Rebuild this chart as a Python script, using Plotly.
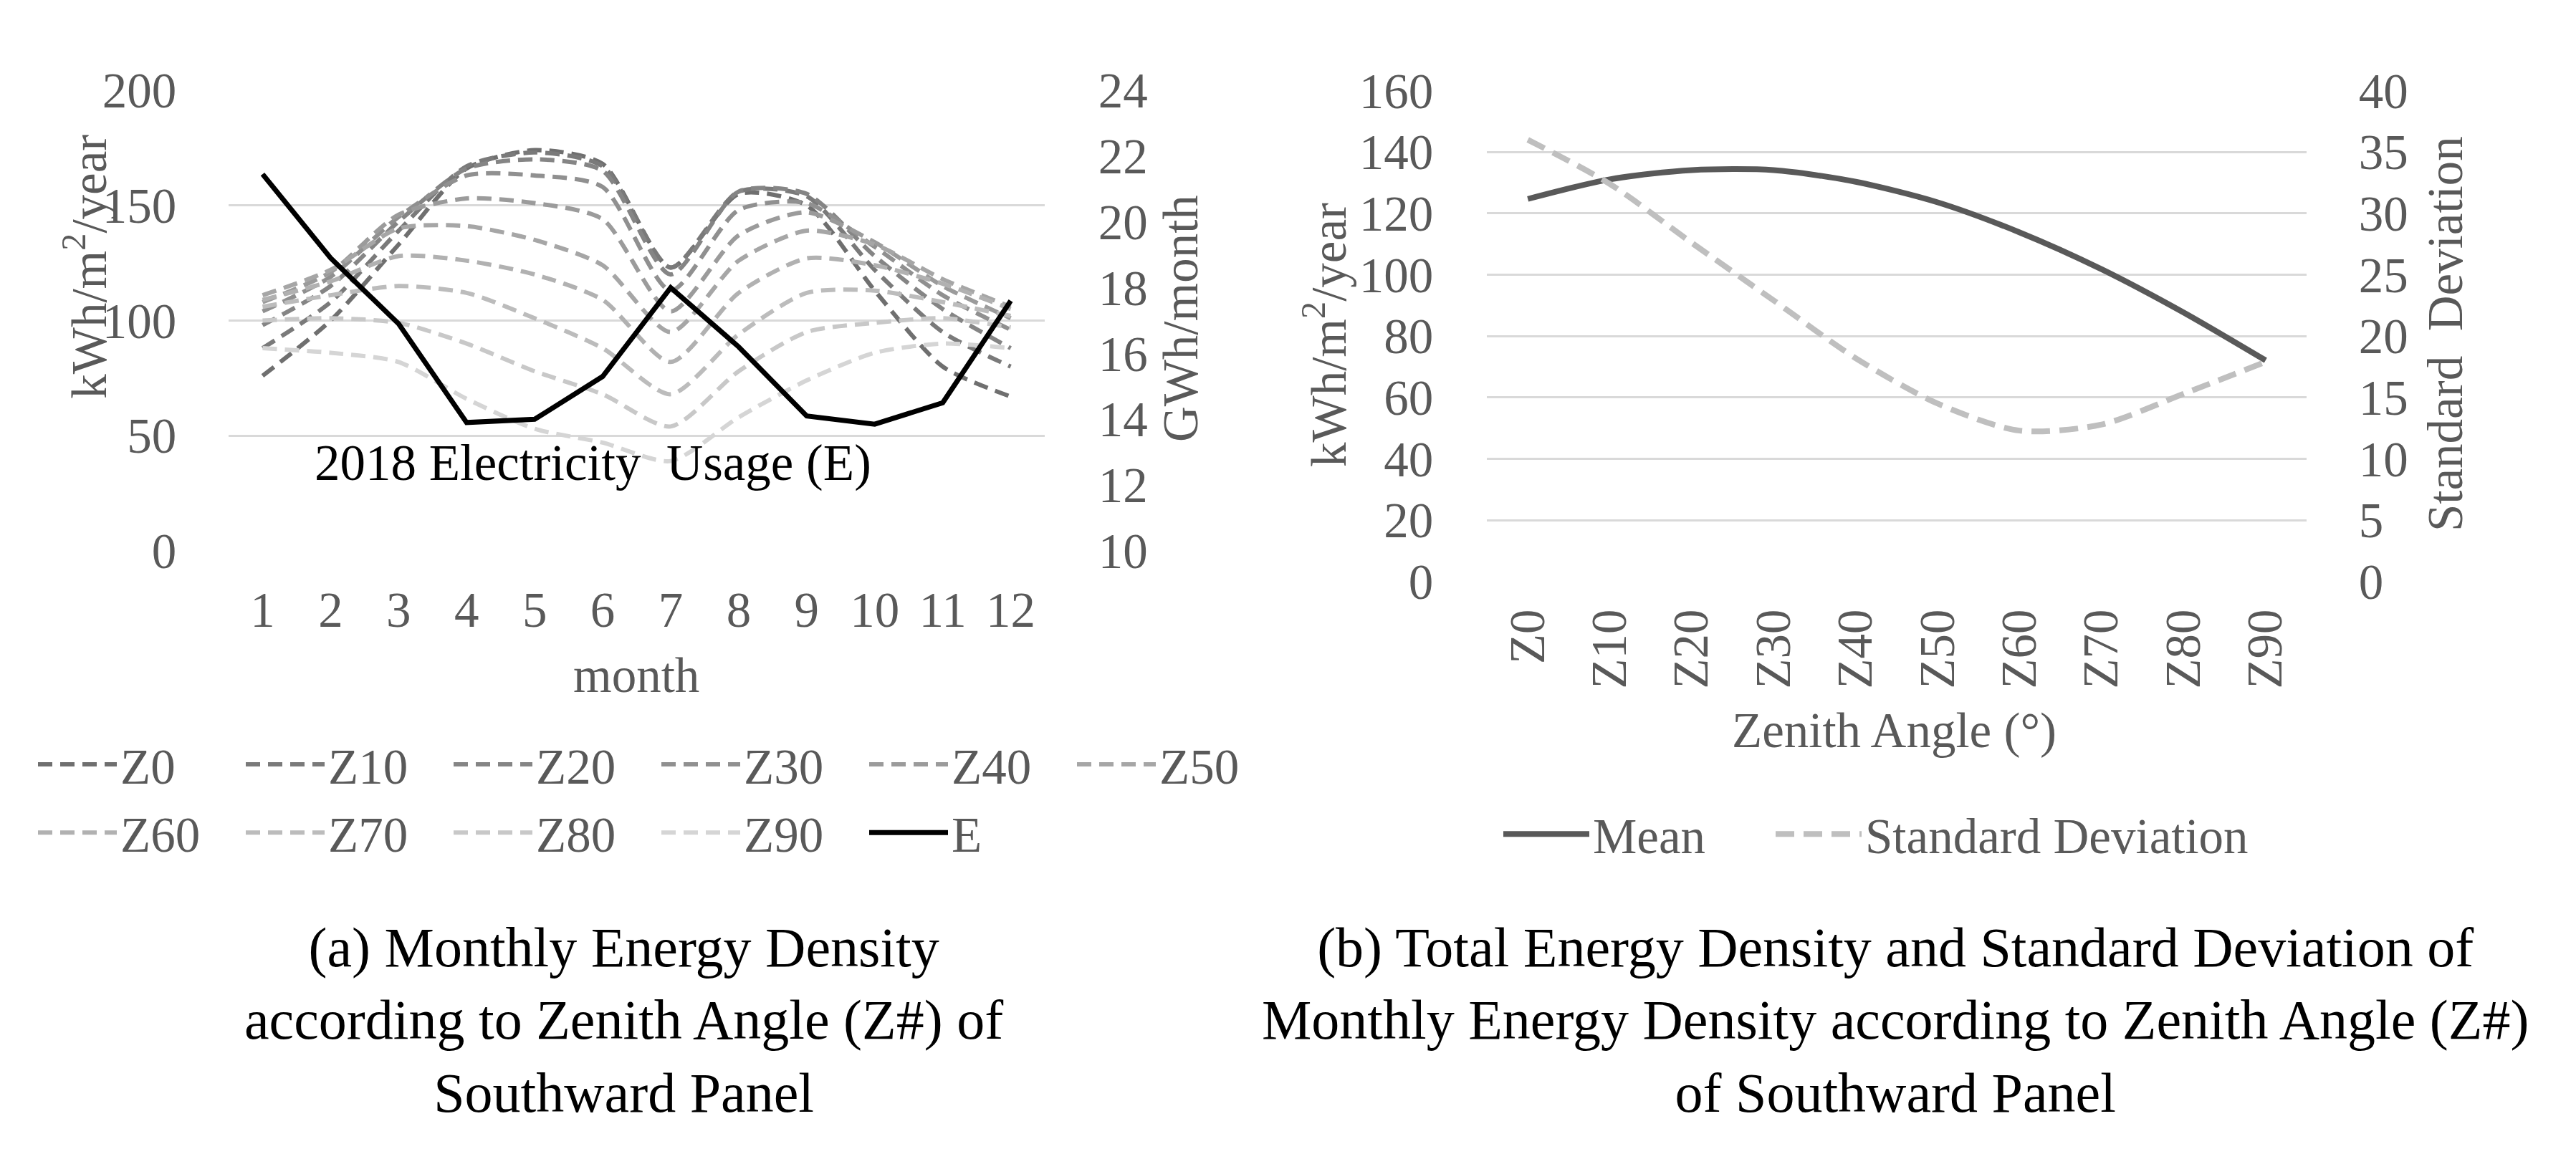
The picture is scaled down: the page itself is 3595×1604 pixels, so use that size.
import plotly.graph_objects as go

W, H = 3595, 1604

months = list(range(1, 13))
month_labels = [str(m) for m in months]
zenith_names = ["Z0", "Z10", "Z20", "Z30", "Z40", "Z50", "Z60", "Z70", "Z80", "Z90"]

# Monthly energy density (kWh/m2/year) per zenith angle
Z0 = [76, 100, 133, 166, 174, 168, 123, 155, 150, 113, 80, 67]
Z10 = [88, 108, 139, 167, 173, 167, 123, 156, 154, 122, 95, 80]
Z20 = [98, 115, 143, 166, 170, 165, 120, 156, 155, 128, 105, 88]
Z30 = [104, 119, 145, 163, 163, 158, 113, 148, 151, 132, 111, 96]
Z40 = [108, 121, 146, 153, 151, 144, 104, 137, 147, 134, 115, 101]
Z50 = [111, 122, 140, 141, 135, 124, 95, 126, 139, 133, 118, 106]
Z60 = [109, 117, 128, 126, 120, 109, 82, 112, 127, 124, 116, 105]
Z70 = [106, 111, 115, 112, 101, 88, 68, 94, 112, 113, 108, 102]
Z80 = [100, 101, 99, 90, 78, 68, 54, 78, 95, 99, 101, 97]
Z90 = [88, 86, 82, 66, 53, 47, 39, 58, 74, 86, 90, 88]
# 2018 electricity usage (GWh/month)
E = [21.45, 18.9, 16.9, 13.9, 14.0, 15.3, 18.0, 16.2, 14.1, 13.85, 14.5, 17.6]

# Right panel: mean and standard deviation per zenith angle
mean_vals = [124.7, 131.1, 134.1, 134.1, 130.3, 123.6, 113.8, 101.8, 87.7, 72.1]
std_vals = [36.0, 32.4, 27.6, 22.9, 18.2, 14.5, 12.3, 12.8, 15.3, 17.9]

z_series = [Z0, Z10, Z20, Z30, Z40, Z50, Z60, Z70, Z80, Z90]
z_colors = ["#6f6f6f", "#7a7a7a", "#858585", "#909090", "#9b9b9b",
            "#a6a6a6", "#b1b1b1", "#bcbcbc", "#c8c8c8", "#d5d5d5"]

FONT = "Liberation Serif"
TICK = "#595959"
GRID = "#d9d9d9"
FS = 69


def px(x):
    return x / W


def py(y):
    return 1 - y / H


fig = go.Figure()

for i, (name, vals, col) in enumerate(zip(zenith_names, z_series, z_colors)):
    fig.add_trace(go.Scatter(
        x=months, y=vals, name=name, mode="lines",
        xaxis="x", yaxis="y",
        line=dict(color=col, width=6, dash="20px,11px", shape="spline", smoothing=0.7),
        legend="legend" if i < 6 else "legend2",
        hoverinfo="skip",
    ))

fig.add_trace(go.Scatter(
    x=months, y=E, name="E", mode="lines", xaxis="x", yaxis="y2",
    line=dict(color="#000000", width=7), legend="legend2", hoverinfo="skip",
))

fig.add_trace(go.Scatter(
    x=zenith_names, y=mean_vals, name="Mean", mode="lines", xaxis="x2", yaxis="y3",
    line=dict(color="#595959", width=8, shape="spline", smoothing=0.8),
    legend="legend3", hoverinfo="skip",
))
fig.add_trace(go.Scatter(
    x=zenith_names, y=std_vals, name="Standard Deviation", mode="lines", xaxis="x2", yaxis="y4",
    line=dict(color="#bfbfbf", width=8, dash="26px,13px", shape="spline", smoothing=0.8),
    legend="legend4", hoverinfo="skip",
))

tickfont = dict(family=FONT, size=FS, color=TICK)
common_y = dict(showline=False, zeroline=False, ticks="outside", tickcolor="rgba(0,0,0,0)",
                tickfont=tickfont, fixedrange=True)

L_dom_x = [px(311), px(1450)]
L_dom_y = [py(760), py(85)]
R_dom_x = [px(2067), px(3211)]
R_dom_y = [py(805), py(85.6)]

legend_common = dict(orientation="h", font=dict(family=FONT, size=FS, color=TICK),
                     bgcolor="rgba(0,0,0,0)", xanchor="left", yanchor="middle",
                     tracegroupgap=0, itemclick=False)

fig.update_layout(
    width=W, height=H, autosize=False,
    margin=dict(l=0, r=0, t=0, b=0),
    paper_bgcolor="white", plot_bgcolor="white",
    showlegend=True,
    xaxis=dict(domain=L_dom_x, anchor="y", range=[0.5, 12.5], tickvals=months, ticktext=month_labels,
               showgrid=False, zeroline=False, showline=False, ticks="outside", ticklen=22,
               tickcolor="rgba(0,0,0,0)", tickfont=tickfont, fixedrange=True),
    yaxis=dict(domain=L_dom_y, anchor="x", range=[0, 200], dtick=50, showgrid=True,
               gridcolor=GRID, gridwidth=2.5, ticklen=58, **common_y),
    yaxis2=dict(overlaying="y", side="right", anchor="x", range=[10, 24], dtick=2,
                showgrid=False, ticklen=60, **common_y),
    xaxis2=dict(domain=R_dom_x, anchor="y3", type="category", range=[-0.5, 9.5],
                showgrid=False, zeroline=False, showline=False, ticks="outside", ticklen=10,
                tickcolor="rgba(0,0,0,0)", tickangle=-90, tickfont=tickfont, fixedrange=True),
    yaxis3=dict(domain=R_dom_y, anchor="x2", range=[0, 160], dtick=20, showgrid=True,
                gridcolor=GRID, gridwidth=2.5, ticklen=60, **common_y),
    yaxis4=dict(overlaying="y3", side="right", anchor="x2", range=[0, 40], dtick=5,
                showgrid=False, ticklen=58, **common_y),
    legend=dict(x=px(40), y=py(1073), itemwidth=110, entrywidth=165, entrywidthmode="pixels",
                **legend_common),
    legend2=dict(x=px(40), y=py(1173), itemwidth=110, entrywidth=165, entrywidthmode="pixels",
                 **legend_common),
    legend3=dict(x=px(2085), y=py(1175), itemwidth=120, **legend_common),
    legend4=dict(x=px(2465), y=py(1175), itemwidth=120, **legend_common),
)

annots = [
    dict(text="kWh/m<sup>2</sup>/year", x=px(112), y=py(344), textangle=-90,
         font=dict(family=FONT, size=FS, color=TICK)),
    dict(text="GWh/month", x=px(1640), y=py(420), textangle=-90,
         font=dict(family=FONT, size=FS, color=TICK)),
    dict(text="month", x=px(880), y=py(943), font=dict(family=FONT, size=FS, color=TICK)),
    dict(text="2018 Electricity  Usage (E)", x=px(819), y=py(631),
         font=dict(family=FONT, size=71, color="#000000")),
    dict(text="kWh/m<sup>2</sup>/year", x=px(1842), y=py(444), textangle=-90,
         font=dict(family=FONT, size=FS, color=TICK)),
    dict(text="Standard  Deviation", x=px(3405), y=py(442), textangle=-90,
         font=dict(family=FONT, size=FS, color=TICK)),
    dict(text="Zenith Angle (°)", x=px(2635), y=py(1024),
         font=dict(family=FONT, size=FS, color=TICK)),
    dict(text="(a) Monthly Energy Density<br>according to Zenith Angle (Z#) of<br>Southward Panel",
         x=px(862), y=py(1448), font=dict(family=FONT, size=78, color="#000000")),
    dict(text="(b) Total Energy Density and Standard Deviation of<br>"
              "Monthly Energy Density according to Zenith Angle (Z#)<br>of Southward Panel",
         x=px(2637), y=py(1448), font=dict(family=FONT, size=78, color="#000000")),
]
for a in annots:
    a.update(xref="paper", yref="paper", showarrow=False, xanchor="center", yanchor="middle")
fig.update_layout(annotations=annots)

fig.write_html("out.html")
